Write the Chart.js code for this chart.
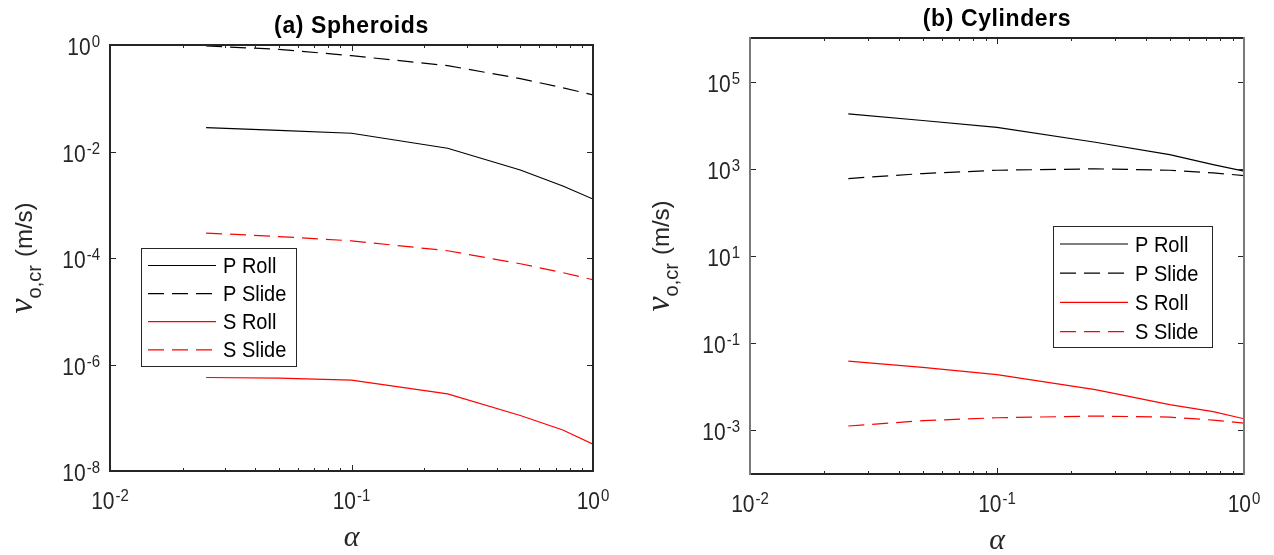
<!DOCTYPE html>
<html>
<head>
<meta charset="utf-8">
<script src="https://cdn.jsdelivr.net/npm/chart.js@4/dist/chart.umd.min.js"></script>
<style>
  html, body { margin: 0; background: #fff; }
  #wrap { position: relative; width: 1274px; height: 555px; }
  .panel { position: absolute; top: 0; width: 637px; height: 555px; }
</style>
</head>
<body>
<div id="wrap">
  <div class="panel" style="left:0"><canvas id="spheroids" width="637" height="555"></canvas></div>
  <div class="panel" style="left:637px"><canvas id="cylinders" width="637" height="555"></canvas></div>
</div>
<script>
// aspect ratio values shared by both panels
const alpha = [0.025, 0.05, 0.1, 0.25, 0.5, 0.75, 1];

// (a) spheroids, critical velocity in m/s
const pRollSph  = [0.028, 0.025, 0.022, 0.0115, 0.0045, 0.00225, 0.00128];
const pSlideSph = [0.96, 0.83, 0.63, 0.41, 0.234, 0.157, 0.116];
const sRollSph  = [5.7e-7, 5.57e-7, 5.1e-7, 2.8e-7, 1.1e-7, 5.9e-8, 3.2e-8];
const sSlideSph = [2.94e-4, 2.53e-4, 2.1e-4, 1.37e-4, 7.8e-5, 5.3e-5, 3.9e-5];

// (b) cylinders
const pRollCyl  = [1.82e4, 1.28e4, 8.9e3, 4.06e3, 2.12e3, 1.25e3, 880];
const pSlideCyl = [598, 778, 927, 998, 927, 807, 700];
const sRollCyl  = [0.0389, 0.0278, 0.0191, 0.0086, 0.0039, 0.0027, 0.00185];
const sSlideCyl = [0.00126, 0.00167, 0.00195, 0.00213, 0.00202, 0.00172, 0.00147];

const seriesLabels = ['P Roll', 'P Slide', 'S Roll', 'S Slide'];

// tick exponents
const xTickExp = [-2, -1, 0];
const sphYTickExp = [0, -2, -4, -6, -8];
const cylYTickExp = [5, 3, 1, -1, -3];

const INK = '#262626';
const SANS = '"Liberation Sans", Arial, sans-serif';
const SERIF = '"Liberation Serif", "Times New Roman", serif';
const DASH = [16, 8];
const STRETCH = 1.12;  // text is a bit taller than wide

// fillText with a vertical stretch about the baseline
function tallText(ctx, text, x, y, sy) {
  ctx.save();
  ctx.translate(x, y);
  ctx.scale(1, sy || STRETCH);
  ctx.fillText(text, 0, 0);
  ctx.restore();
}

function powLabel(ctx, exp, x, y, align) {
  const sup = String(exp);
  ctx.font = '21px ' + SANS;
  const wb = ctx.measureText('10').width;
  ctx.font = '15px ' + SANS;
  const ws = ctx.measureText(sup).width;
  const total = wb + 1 + ws;
  const left = align === 'right' ? x - total : x - total / 2;
  ctx.textAlign = 'left';
  ctx.textBaseline = 'alphabetic';
  ctx.font = '21px ' + SANS;
  tallText(ctx, '10', left, y);
  ctx.font = '15px ' + SANS;
  tallText(ctx, sup, left + wb + 1, y - 8);
}

// MATLAB-like box axes, inward ticks, titles and legend
const matlabAxes = {
  id: 'matlabAxes',
  afterDraw(chart, args, o) {
    const ctx = chart.ctx, a = chart.chartArea;
    const xs = chart.scales.x, ys = chart.scales.y;
    ctx.save();
    ctx.fillStyle = INK;
    ctx.strokeStyle = INK;

    // x ticks (major + minor) on bottom and top
    ctx.lineWidth = 1;
    ctx.beginPath();
    for (let d = -2; d < 0; d++) {
      for (let m = 1; m <= 9; m++) {
        const px = Math.round(xs.getPixelForValue(m * Math.pow(10, d))) + 0.5;
        const len = m === 1 ? 6 : 3;
        ctx.moveTo(px, a.bottom); ctx.lineTo(px, a.bottom - len);
        ctx.moveTo(px, a.top); ctx.lineTo(px, a.top + len);
      }
    }
    o.yTicks.forEach(e => {
      const py = Math.round(ys.getPixelForValue(Math.pow(10, e))) + 0.5;
      ctx.moveTo(a.left, py); ctx.lineTo(a.left + 6, py);
      ctx.moveTo(a.right, py); ctx.lineTo(a.right - 6, py);
    });
    ctx.stroke();

    // box
    ctx.lineWidth = 2;
    ctx.beginPath();
    ctx.moveTo(a.left, a.top); ctx.lineTo(a.right, a.top);
    ctx.moveTo(a.left, a.bottom); ctx.lineTo(a.right, a.bottom);
    ctx.stroke();
    ctx.strokeStyle = o.sideColor;
    ctx.beginPath();
    ctx.moveTo(a.left, a.top - 1); ctx.lineTo(a.left, a.bottom + 1);
    ctx.moveTo(a.right, a.top - 1); ctx.lineTo(a.right, a.bottom + 1);
    ctx.stroke();
    ctx.strokeStyle = INK;

    // tick labels
    xTickExp.forEach(e => powLabel(ctx, e, xs.getPixelForValue(Math.pow(10, e)), a.bottom + 38, 'center'));
    o.yTicks.forEach(e => powLabel(ctx, e, a.left - 10, ys.getPixelForValue(Math.pow(10, e)) + 10, 'right'));

    // title
    ctx.font = 'bold 23px ' + SANS;
    ctx.letterSpacing = '0.6px';
    ctx.textAlign = 'center';
    ctx.fillStyle = '#000';
    tallText(ctx, o.title, (a.left + a.right) / 2, o.titleY, 1.08);
    ctx.letterSpacing = '0px';

    // x axis title
    ctx.fillStyle = INK;
    ctx.font = 'italic 30px ' + SERIF;
    ctx.fillText('\u03b1', (a.left + a.right) / 2, a.bottom + 75);

    // y axis title: nu_{o,cr} (m/s)
    ctx.save();
    ctx.translate(32, (a.top + a.bottom) / 2);
    ctx.rotate(-Math.PI / 2);
    ctx.textAlign = 'left';
    ctx.font = 'italic 34px ' + SERIF;
    const wNu = ctx.measureText('\u03bd').width;
    ctx.font = '20px ' + SANS;
    const wSub = ctx.measureText('o,cr').width;
    ctx.font = '24px ' + SANS;
    const wUnit = ctx.measureText('(m/s)').width;
    let cx = -(wNu + wSub + 8 + wUnit) / 2;
    ctx.font = 'italic 34px ' + SERIF;
    ctx.fillText('\u03bd', cx, 0); cx += wNu;
    ctx.font = '20px ' + SANS;
    ctx.fillText('o,cr', cx, 9); cx += wSub + 8;
    ctx.font = '24px ' + SANS;
    ctx.fillText('(m/s)', cx, 0);
    ctx.restore();

    // legend
    const L = o.legend;
    ctx.fillStyle = '#fff';
    ctx.fillRect(L.x, L.y, L.w, L.h);
    ctx.lineWidth = 1;
    ctx.strokeStyle = INK;
    ctx.strokeRect(L.x + 0.5, L.y + 0.5, L.w, L.h);
    chart.data.datasets.forEach((ds, i) => {
      const ry = L.y + L.row0 + i * L.gap;
      ctx.strokeStyle = ds.borderColor;
      ctx.lineWidth = 1.2;
      ctx.setLineDash(ds.borderDash || []);
      ctx.beginPath();
      ctx.moveTo(L.x + 7, ry); ctx.lineTo(L.x + 75, ry);
      ctx.stroke();
      ctx.setLineDash([]);
      ctx.fillStyle = '#000';
      ctx.font = '20px ' + SANS;
      ctx.textAlign = 'left';
      tallText(ctx, ds.label, L.x + 82, ry + 7.5, 1.06);
    });
    ctx.restore();
  }
};

function makeSeries(values) {
  const colors = ['#000000', '#000000', '#ff0000', '#ff0000'];
  const dashes = [[], DASH, [], DASH];
  return values.map((v, i) => ({
    label: seriesLabels[i],
    data: alpha.map((x, k) => ({ x: x, y: v[k] })),
    borderColor: colors[i],
    borderDash: dashes[i],
    borderWidth: 1.2,
    pointRadius: 0,
    tension: 0,
    fill: false
  }));
}

function panel(id, values, yMin, yMax, axes) {
  return new Chart(document.getElementById(id), {
    type: 'line',
    data: { datasets: makeSeries(values) },
    options: {
      responsive: false,
      animation: false,
      events: [],
      layout: { padding: axes.pad },
      scales: {
        x: { type: 'logarithmic', min: 0.01, max: 1, display: false },
        y: { type: 'logarithmic', min: yMin, max: yMax, display: false }
      },
      plugins: { legend: { display: false }, tooltip: { enabled: false }, matlabAxes: axes }
    },
    plugins: [matlabAxes]
  });
}

panel('spheroids', [pRollSph, pSlideSph, sRollSph, sSlideSph], 1e-8, 1, {
  pad: { left: 110, top: 45, right: 44, bottom: 84 },
  yTicks: sphYTickExp,
  title: '(a) Spheroids',
  titleY: 33,
  sideColor: INK,
  legend: { x: 141, y: 248, w: 155, h: 118, row0: 17.5, gap: 28.1 }
});

panel('cylinders', [pRollCyl, pSlideCyl, sRollCyl, sSlideCyl], 1e-4, 1e6, {
  pad: { left: 113, top: 38, right: 30, bottom: 81 },
  yTicks: cylYTickExp,
  title: '(b) Cylinders',
  titleY: 26,
  sideColor: '#7a7a7a',
  legend: { x: 416, y: 226, w: 159, h: 121, row0: 18, gap: 29.2 }
});
</script>
</body>
</html>
